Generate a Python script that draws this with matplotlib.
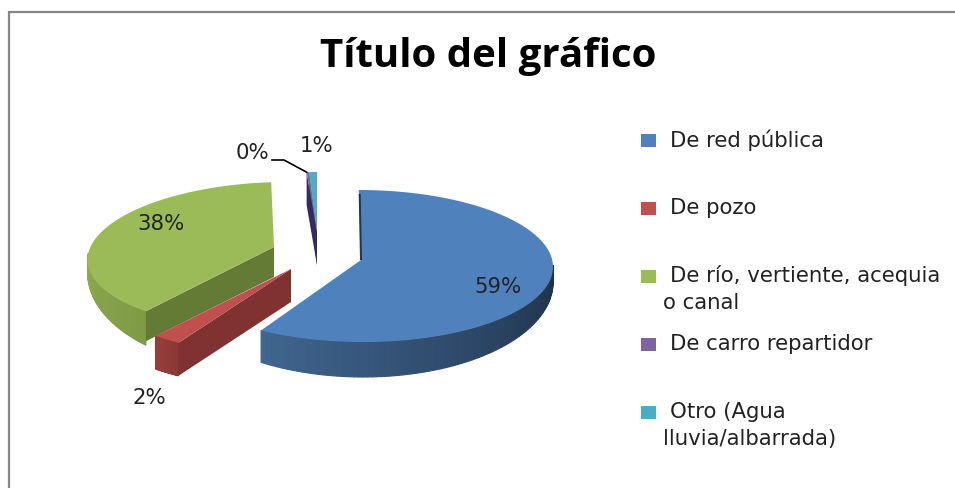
import numpy as np
import matplotlib
matplotlib.use('Agg')
import matplotlib.pyplot as plt
from matplotlib.patches import Polygon, Rectangle
from matplotlib.colors import to_rgb

plt.rcParams['font.family'] = ['DejaVu Sans']

# valores de cada porción (porcentaje)
labels = ['De red pública', 'De pozo', 'De río, vertiente, acequia\no canal',
          'De carro repartidor', 'Otro (Agua\nlluvia/albarrada)']
values = [58.9, 2.1, 37.7, 0.3, 1.0]
pct_labels = ['59%', '2%', '38%', '0%', '1%']

top_colors = ['#4F81BD', '#C0504D', '#9BBB59', '#8064A2', '#4BACC6']
cut_colors = ['#1F3550', '#7F3230', '#647B36', '#352B5C', '#352B5C']
side_left = ['#40658F', '#973E3A', '#8FAC50', '#8064A2', '#4BACC6']
side_right = ['#1C2E46', '#8A3835', '#7E9A45', '#8064A2', '#4BACC6']

# centro, radios, apice y profundidad de cada porcion en pixeles
cx = [361, 291, 274, 317, 317]
cy = [266, 269, 255, 232, 232]
rx = [192, 212, 186, 127, 127]
ry = [76, 87, 73, 60, 60]
skew = [0.03, 0, -0.17, 0, 0]
apex_dy = [-6, 0, -8, 0, 0]
depth0 = [15, 33, 10, 33, 33]
depth1 = [20, 0, 31, 0, 0]
cut_depth = [0, 33, 30, 33, 33]

label_x = [498, 149, 161, 252, 316]
label_y = [287, 398, 224, 153, 146]
legend_y = [140, 208, 276, 344, 412]

fig = plt.figure(figsize=(9.55, 4.88), dpi=100)
fig.set_facecolor('white')
ax = fig.add_axes([0, 0, 1, 1])
ax.set_xlim(0, 955)
ax.set_ylim(488, 0)
ax.axis('off')


def point(i, ang):
    a = np.radians(ang)
    y = cy[i] - ry[i] * np.sin(a)
    return cx[i] + rx[i] * np.cos(a) + skew[i] * (y - cy[i]), y


def depth(i, ang):
    s = max(0, -np.sin(np.radians(ang)))
    return depth0[i] + depth1[i] * s


def mix(c1, c2, t):
    c1, c2 = np.array(to_rgb(c1)), np.array(to_rgb(c2))
    return tuple(c1 + (c2 - c1) * t)


shares = np.array(values) / sum(values) * 360
ends = 90 - np.cumsum(shares)
starts = ends + shares

for i in [2, 1, 0, 3, 4]:
    angs = np.linspace(starts[i], ends[i], 160)
    ax_x, ax_y = point(i, angs)
    apex = (cx[i], cy[i] + apex_dy[i])
    x0, y0 = point(i, starts[i])

    # cara del corte
    if i == 0:
        ax.add_patch(Polygon([(x0, y0 + 4), (apex[0] - 1, apex[1]), (apex[0] + 1, apex[1]), (x0 + 2, y0 + 4)],
                             fc=cut_colors[i], ec='none', zorder=5))
    else:
        dd = cut_depth[i]
        ax.add_patch(Polygon([(x0, y0), apex, (apex[0], apex[1] + dd), (x0, y0 + dd)],
                             fc=cut_colors[i], ec='none', zorder=1.5 + i / 10))

    # lado exterior con degradado
    if i < 3:
        front = angs[np.sin(np.radians(angs)) <= 0.03]
        span = front.max() - front.min()
        for a0, a1 in zip(front[:-1], front[1:]):
            xa, ya = point(i, a0)
            xb, yb = point(i, a1)
            t = (min(a0, a1) - front.min()) / span
            c = mix(side_left[i], side_right[i], t)
            ax.add_patch(Polygon([(xa, ya), (xb, yb), (xb, yb + depth(i, a1)), (xa, ya + depth(i, a0))],
                                 fc=c, ec=c, lw=0.8, zorder=1 + i / 10))

    # cara superior
    ax.add_patch(Polygon([apex] + list(zip(ax_x, ax_y)), fc=top_colors[i], ec='none', zorder=4))

for i in range(5):
    ax.text(label_x[i], label_y[i], pct_labels[i], fontsize=15.3, color='#222222',
            ha='center', va='center', zorder=6)

# linea guia de 0%
lx, ly = point(3, starts[3])
ax.plot([label_x[3] + 20, label_x[3] + 32, lx], [160, 160, ly], color='black', lw=1.2, zorder=6)

ax.text(488, 56, 'Título del gráfico', fontsize=29, fontweight='bold', color='black',
        family='Open Sans', ha='center', va='center')

# leyenda
for i in range(5):
    ax.add_patch(Rectangle((641, legend_y[i] - 6), 15, 13, fc=top_colors[i], ec='none'))
    lines = labels[i].split('\n')
    ax.text(670, legend_y[i], lines[0], fontsize=15.3, color='#222222', va='center', ha='left')
    if len(lines) > 1:
        ax.text(663, legend_y[i] + 27, lines[1], fontsize=15.3, color='#222222', va='center', ha='left')

# borde del grafico
ax.plot([8.5, 8.5, 955], [488, 12, 12], color='#868686', lw=1.6, solid_joinstyle='miter')

fig.savefig('out.png', dpi=100)
